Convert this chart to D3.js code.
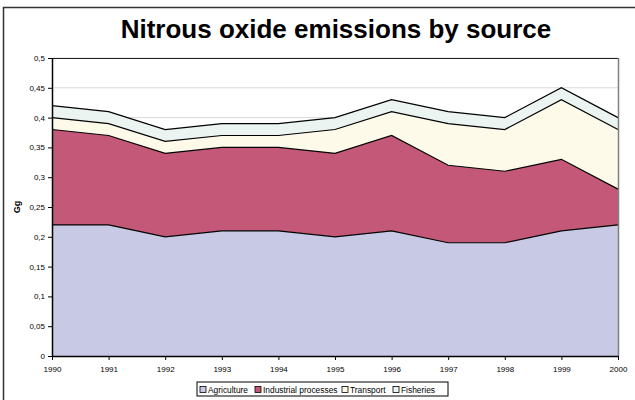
<!DOCTYPE html>
<html>
<head>
<meta charset="utf-8">
<script src="https://cdn.jsdelivr.net/npm/d3@7"></script>
<style>
  body { margin: 0; background: #fff; }
  svg { font-family: Arial, "Liberation Sans", sans-serif; }
</style>
</head>
<body>
<div id="chart"></div>
<script>
// data (Gg, per source)
const years = ["1990","1991","1992","1993","1994","1995","1996","1997","1998","1999","2000"];
const agriculture = [0.22,0.22,0.20,0.21,0.21,0.20,0.21,0.19,0.19,0.21,0.22];
const industrial  = [0.16,0.15,0.14,0.14,0.14,0.14,0.16,0.13,0.12,0.12,0.06];
const transport   = [0.02,0.02,0.02,0.02,0.02,0.04,0.04,0.07,0.07,0.10,0.10];
const fisheries   = [0.02,0.02,0.02,0.02,0.02,0.02,0.02,0.02,0.02,0.02,0.02];
const seriesNames = ["Agriculture","Industrial processes","Transport","Fisheries"];
const yTicks = [0,0.05,0.1,0.15,0.2,0.25,0.3,0.35,0.4,0.45,0.5];

const colors = ["#C8C9E4","#C45879","#FDFAEA","#EBF4F1"];

const width = 635, height = 400;
const margin = {left: 52, right: 17, top: 58, bottom: 44};

const svg = d3.select("#chart").append("svg")
    .attr("width", width)
    .attr("height", height);

// outer chart border (runs off the right and bottom of the picture)
svg.append("rect")
    .attr("x", 3.5).attr("y", 7.5)
    .attr("width", 700).attr("height", 500)
    .attr("fill", "none")
    .attr("stroke", "#333")
    .attr("stroke-width", 1.5);

svg.append("text")
    .attr("x", 336).attr("y", 38)
    .attr("text-anchor", "middle")
    .style("font-size", "26px")
    .style("font-weight", "bold")
    .text("Nitrous oxide emissions by source");

const x = d3.scalePoint()
    .domain(years)
    .range([margin.left, width - margin.right]);

const y = d3.scaleLinear()
    .domain([0, 0.5])
    .range([height - margin.bottom, margin.top]);

// build the table for the stack
const table = years.map((yr, i) => ({
  year: yr,
  "Agriculture": agriculture[i],
  "Industrial processes": industrial[i],
  "Transport": transport[i],
  "Fisheries": fisheries[i]
}));

const stacked = d3.stack().keys(seriesNames)(table);

// gridlines
svg.append("g")
    .selectAll("line")
    .data(yTicks.slice(1))
    .join("line")
    .attr("x1", margin.left).attr("x2", width - margin.right)
    .attr("y1", d => y(d)).attr("y2", d => y(d))
    .attr("stroke", "#d9d9d9")
    .attr("stroke-width", 1);

const area = d3.area()
    .x(d => x(d.data.year))
    .y0(d => y(d[0]))
    .y1(d => y(d[1]));

const topLine = d3.line()
    .x(d => x(d.data.year))
    .y(d => y(d[1]));

svg.append("g")
    .selectAll("path")
    .data(stacked)
    .join("path")
    .attr("d", area)
    .attr("fill", (d, i) => colors[i]);

svg.append("g")
    .selectAll("path")
    .data(stacked)
    .join("path")
    .attr("d", topLine)
    .attr("fill", "none")
    .attr("stroke", "#000")
    .attr("stroke-width", 1.2);

// plot area border top/right
svg.append("line")
    .attr("x1", margin.left).attr("x2", width - margin.right)
    .attr("y1", margin.top + 0.5).attr("y2", margin.top + 0.5)
    .attr("stroke", "#222");
svg.append("line")
    .attr("x1", width - margin.right + 0.5).attr("x2", width - margin.right + 0.5)
    .attr("y1", margin.top).attr("y2", height - margin.bottom)
    .attr("stroke", "#808080")
    .attr("stroke-width", 1.5);

// axes
const fmt = d => String(d).replace(".", ",");

const yAxis = svg.append("g")
    .attr("transform", `translate(${margin.left},0)`)
    .call(d3.axisLeft(y).tickValues(yTicks).tickFormat(fmt).tickSize(4).tickSizeOuter(0));

const xAxis = svg.append("g")
    .attr("transform", `translate(0,${height - margin.bottom})`)
    .call(d3.axisBottom(x).tickSize(4).tickSizeOuter(0));

[yAxis, xAxis].forEach(g => {
  g.select(".domain").attr("stroke", "#000").attr("stroke-width", 1.5);
  g.selectAll(".tick line").attr("stroke", "#000");
  g.selectAll("text")
    .style("font-family", "Arial, 'Liberation Sans', sans-serif")
    .style("font-size", "8px")
    .attr("fill", "#000");
});
xAxis.selectAll("text").attr("dy", "1.1em");

svg.append("text")
    .attr("transform", "translate(20,207) rotate(-90)")
    .attr("text-anchor", "middle")
    .style("font-size", "9px")
    .style("font-weight", "bold")
    .text("Gg");

// legend
const legend = svg.append("g").attr("transform", "translate(197,382)");
legend.append("rect")
    .attr("width", 251).attr("height", 14)
    .attr("fill", "#fff")
    .attr("stroke", "#000")
    .attr("stroke-width", 1);

const itemX = [3, 58, 145, 196];
const items = legend.selectAll("g.item")
    .data(seriesNames)
    .join("g")
    .attr("transform", (d, i) => `translate(${itemX[i]},3)`);
items.append("rect")
    .attr("y", 1.5)
    .attr("width", 6).attr("height", 6)
    .attr("fill", (d, i) => colors[i])
    .attr("stroke", "#000")
    .attr("stroke-width", 0.8);
items.append("text")
    .attr("x", 8).attr("y", 8)
    .style("font-size", "8.4px")
    .text(d => d);
</script>
</body>
</html>
